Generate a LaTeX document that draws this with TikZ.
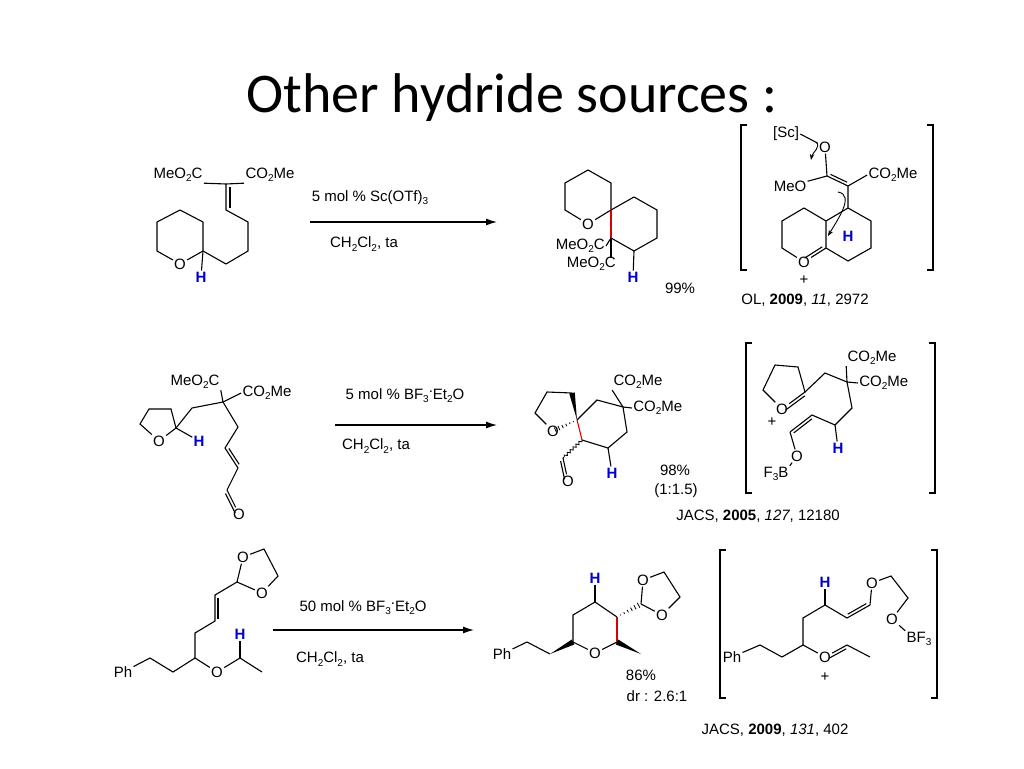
\documentclass[tikz,border=0pt]{standalone}
\usepackage{fontspec}
\setmainfont{Liberation Sans}
\newfontfamily\titlefont{Carlito}
\usetikzlibrary{calc,arrows.meta,decorations.pathmorphing}
\newcommand\sbs[1]{\raisebox{-0.4ex}{\fontsize{10}{10}\selectfont #1}}
\newcommand\dt{\raisebox{0.9ex}{.}}
\newcommand\dbond[3][3]{\draw[shorten >=2.5pt,shorten <=2.5pt] ($(#2)!#1pt!90:(#3)$) -- ($(#3)!#1pt!-90:(#2)$);}
\newcommand\wdg[2]{\fill (#1) -- ($(#2)!2.8pt!90:(#1)$) -- ($(#2)!2.8pt!-90:(#1)$) -- cycle;}
\newcommand\hashb[2]{\foreach \t in {0.15,0.3,...,0.95}{\draw[line width=0.8pt] ($(#1)!\t!(#2)!\t*3pt!90:(#2)$) -- ($(#1)!\t!(#2)!\t*3pt!-90:(#2)$);}}
\begin{document}
\begin{tikzpicture}[x=1pt,y=-1pt,line width=1.1pt,
  atm/.style={inner sep=0.8pt,font=\fontsize{15}{15}\selectfont},
  hh/.style={inner sep=0.8pt,text=blue!80!black,font=\fontsize{15}{15}\selectfont\bfseries},
  txt/.style={inner sep=0pt,font=\fontsize{15}{15}\selectfont},
  rxn/.style={-{Latex[length=11pt,width=7pt]},line width=1.3pt},
  brk/.style={line width=1.3pt},
  redb/.style={draw=red!85!black}]
\useasboundingbox (0,0) rectangle (1024,768);
\node[font=\titlefont\fontsize{56}{56}\selectfont] (title) at (512,98) {Other hydride sources :};

% ===== Row 1 reactant
\coordinate (a1) at (180,210); \coordinate (a2) at (203,222); \coordinate (a3) at (203,251);
\node[atm] (ao) at (180,264) {O}; \coordinate (a5) at (157,251); \coordinate (a6) at (157,222);
\draw (a1)--(a2)--(a3)--(ao)--(a5)--(a6)--(a1);
\node[hh] (ah) at (201,277) {H}; \draw (a3)--(ah);
\coordinate (a7) at (226,264); \coordinate (a8) at (248,251); \coordinate (a9) at (248,222);
\coordinate (a10) at (226,210); \coordinate (a11) at (226,184);
\draw (a3)--(a7)--(a8)--(a9)--(a10)--(a11);
\dbond[-4]{a10}{a11}
\node[atm] (ae1) at (178,175) {MeO\sbs{2}C}; \node[atm] (ae2) at (270,175) {CO\sbs{2}Me};
\draw (a11)--(ae1.south east); \draw (a11)--(ae2.south west);

\coordinate (r1s) at (310,222); \coordinate (r1e) at (497,222);
\draw[rxn] (r1s)--(r1e);
\node[txt] (r1t) at (370,198) {5 mol \% Sc(OTf)\sbs{3}};
\node[txt] (r1b) at (364,244) {CH\sbs{2}Cl\sbs{2}, ta};

% ===== Row 1 product
\coordinate (pS) at (611,210);
\coordinate (pt1) at (588,170); \coordinate (pt2) at (611,183);
\node[atm] (po) at (588,224) {O}; \coordinate (pt5) at (565,210); \coordinate (pt6) at (565,183);
\draw (pS)--(pt2)--(pt1)--(pt6)--(pt5)--(po)--(pS);
\coordinate (pc1) at (634,197); \coordinate (pc2) at (657,210); \coordinate (pc3) at (657,238);
\coordinate (pc4) at (634,251); \coordinate (pQ) at (611,238);
\draw (pS)--(pc1)--(pc2)--(pc3)--(pc4)--(pQ);
\draw[redb] (pS)--(pQ);
\node[atm,anchor=east] (pe1) at (606,246) {MeO\sbs{2}C};
\node[atm,anchor=north east] (pe2) at (617,256) {MeO\sbs{2}C};
\draw (pQ)--(pe1.east); \draw (pQ)--($(pe2.north east)+(-6,2)$);
\node[hh] (ph) at (633,277) {H}; \draw (pc4)--(ph);
\node[txt] (y1) at (680,288) {99\%};

% ===== Row 1 intermediate
\draw[brk] (747,125)--(741,125)--(741,270)--(747,270);
\draw[brk] (927,125)--(933,125)--(933,270)--(927,270);
\node[atm] (isc) at (786,134) {[Sc]}; \node[atm] (io1) at (825,147) {O};
\draw (isc.east)--(io1);
\coordinate (ic1) at (827,176); \coordinate (ic2) at (848,186);
\node[atm] (imeo) at (790,186) {MeO}; \node[atm] (ico) at (893,175) {CO\sbs{2}Me};
\draw (io1)--(ic1); \draw (ic1)--(imeo); \draw (ic1)--(ic2); \dbond[3]{ic1}{ic2}
\draw (ic2)--(ico.west);
\coordinate (ir1) at (848,208); \coordinate (ir2) at (871,221); \coordinate (ir3) at (871,248);
\coordinate (ir4) at (848,261); \coordinate (ir5) at (826,248); \coordinate (ir6) at (826,221);
\draw (ic2)--(ir1)--(ir2)--(ir3)--(ir4)--(ir5)--(ir6)--(ir1);
\node[atm] (io2) at (804,262) {O}; \coordinate (il3) at (782,248); \coordinate (il4) at (782,221);
\coordinate (il5) at (804,208);
\draw (ir5)--(io2)--(il3)--(il4)--(il5)--(ir6);
\dbond[-3]{ir5}{io2}
\node[hh] (ih) at (848,236) {H};
\node[atm] (ip1) at (804,280) {+};
\draw[-{Stealth[length=6pt]},line width=0.9pt] (816,142) to[out=-40,in=80] (811,160);
\draw[-{Stealth[length=6pt]},line width=0.9pt] (838,192) to[out=-10,in=60] (828,236);
\node[txt] (c1) at (805,300) {OL, \textbf{2009}, \textit{11}, 2972};

% ===== Row 2 reactant
\node[atm] (bo) at (159,441) {O}; \coordinate (b2) at (176,428); \coordinate (b3) at (171,409);
\coordinate (b4) at (149,409); \coordinate (b5) at (140,424);
\draw (bo)--(b2)--(b3)--(b4)--(b5)--(bo);
\node[hh] (bh) at (199,441) {H}; \draw (b2)--(bh);
\coordinate (b6) at (192,408); \coordinate (bQ) at (223,402);
\draw (b2)--(b6)--(bQ);
\node[atm] (be1) at (195,382) {MeO\sbs{2}C}; \node[atm] (be2) at (267,393) {CO\sbs{2}Me};
\draw (bQ)--(be1.south east); \draw (bQ)--(be2.west);
\coordinate (b7) at (238,427); \coordinate (b8) at (225,448); \coordinate (b9) at (238,468);
\coordinate (b10) at (227,490); \node[atm] (bo2) at (239,514) {O};
\draw (bQ)--(b7)--(b8)--(b9)--(b10); \dbond[3]{b8}{b9}
\draw (b10)--(bo2); \dbond[-3]{b10}{bo2}

\coordinate (r2s) at (335,425); \coordinate (r2e) at (497,425);
\draw[rxn] (r2s)--(r2e);
\node[txt] (r2t) at (405,396) {5 mol \% BF\sbs{3}\dt Et\sbs{2}O};
\node[txt] (r2b) at (376,446) {CH\sbs{2}Cl\sbs{2}, ta};

% ===== Row 2 product
\node[atm] (qo) at (553,431) {O}; \coordinate (qS) at (577,420); \coordinate (q3) at (572,393);
\coordinate (q4) at (547,392); \coordinate (q5) at (535,413);
\draw (q3)--(q4)--(q5)--(qo);
\wdg{qS}{q3}
\hashb{qS}{qo}
\coordinate (qc1) at (597,400); \coordinate (qQ) at (623,407); \coordinate (qc3) at (627,432);
\coordinate (qc4) at (608,448); \coordinate (qc5) at (582,440);
\draw (qS)--(qc1)--(qQ)--(qc3)--(qc4)--(qc5);
\draw[redb] (qS)--(qc5);
\node[atm] (qe1) at (638,382) {CO\sbs{2}Me}; \node[atm,anchor=west] (qe2) at (632,408) {CO\sbs{2}Me};
\draw (qQ)--(qe1.south west); \draw (qQ)--(qe2.west);
\node[hh] (qh) at (612,473) {H}; \draw (qc4)--(qh);
\coordinate (qald) at (563,458); \node[atm] (qo2) at (568,481) {O};
\draw[decorate,decoration={snake,amplitude=1.3pt,segment length=4pt},line width=0.8pt] (qc5)--(qald);
\draw (qald)--(qo2); \dbond[-3]{qald}{qo2}
\node[txt] (y2) at (675,470) {98\%};
\node[txt] (y2b) at (676,491) {(1:1.5)};

% ===== Row 2 intermediate
\draw[brk] (752,343)--(746,343)--(746,493)--(752,493);
\draw[brk] (929,343)--(935,343)--(935,493)--(929,493);
\node[atm] (jo) at (782,409) {O}; \coordinate (j2) at (805,392); \coordinate (j3) at (798,367);
\coordinate (j4) at (775,365); \coordinate (j5) at (763,390);
\draw (jo)--(j2)--(j3)--(j4)--(j5)--(jo); \dbond[3]{j2}{jo}
\node[atm] (jp) at (772,422) {+};
\coordinate (j6) at (825,373); \coordinate (jQ) at (847,382);
\draw (j2)--(j6)--(jQ);
\node[atm] (je1) at (872,358) {CO\sbs{2}Me}; \node[atm,anchor=west] (je2) at (858,383) {CO\sbs{2}Me};
\draw (jQ)--(je1.south west); \draw (jQ)--(je2.west);
\coordinate (j7) at (852,408); \coordinate (j8) at (835,425); \coordinate (j9) at (812,415);
\coordinate (j10) at (790,432);
\draw (jQ)--(j7)--(j8)--(j9)--(j10); \dbond[3]{j9}{j10}
\node[hh] (jh) at (838,448) {H}; \draw (j8)--(jh);
\node[atm] (jo2) at (797,456) {O}; \node[atm] (jb) at (776,474) {F\sbs{3}B};
\draw (j10)--(jo2)--(jb.north east);
\node[txt] (c2) at (758,516) {JACS, \textbf{2005}, \textit{127}, 12180};

% ===== Row 3 reactant
\node[atm] (kph) at (123,672) {Ph}; \coordinate (k1) at (150,658); \coordinate (k2) at (173,672);
\coordinate (k3) at (195,658); \node[atm] (ko) at (217,672) {O}; \coordinate (k4) at (240,658);
\coordinate (k5) at (262,672); \node[hh] (kh) at (240,634) {H};
\draw (kph)--(k1)--(k2)--(k3)--(ko)--(k4)--(k5); \draw (k4)--(kh);
\coordinate (k6) at (195,633); \coordinate (k7) at (215,621); \coordinate (k8) at (215,595);
\coordinate (k9) at (237,582);
\draw (k3)--(k6)--(k7)--(k8)--(k9); \dbond[-3]{k7}{k8}
\node[atm] (ko1) at (243,557) {O}; \node[atm] (ko2) at (262,593) {O};
\coordinate (k10) at (264,549); \coordinate (k11) at (278,576);
\draw (k9)--(ko1)--(k10)--(k11)--(ko2)--(k9);

\coordinate (r3s) at (273,630); \coordinate (r3e) at (474,630);
\draw[rxn] (r3s)--(r3e);
\node[txt] (r3t) at (363,608) {50 mol \% BF\sbs{3}\dt Et\sbs{2}O};
\node[txt] (r3b) at (330,659) {CH\sbs{2}Cl\sbs{2}, ta};

% ===== Row 3 product
\node[atm] (mph) at (502,654) {Ph}; \coordinate (m1) at (527,642); \coordinate (m2) at (550,654);
\coordinate (m6) at (573,642); \node[atm] (mo) at (595,653) {O}; \coordinate (m2c) at (617,642);
\coordinate (m3) at (617,617); \coordinate (m4) at (595,602); \coordinate (m5) at (573,615);
\draw (mph)--(m1)--(m2); \wdg{m2}{m6}
\draw (m6)--(mo)--(m2c); \draw (m3)--(m4)--(m5)--(m6);
\draw[redb] (m2c)--(m3);
\coordinate (mme) at (641,654); \wdg{mme}{m2c}
\node[hh] (mh) at (595,578) {H}; \draw (m4)--(mh);
\coordinate (ma) at (641,604); \hashb{m3}{ma}
\node[atm] (mo1) at (643,580) {O}; \node[atm] (mo2) at (662,615) {O};
\coordinate (m10) at (664,572); \coordinate (m11) at (680,597);
\draw (ma)--(mo1)--(m10)--(m11)--(mo2)--(ma);
\node[txt] (y3) at (641,675) {86\%};
\node[txt] (y3b) at (657,696) {dr : 2.6:1};

% ===== Row 3 intermediate
\draw[brk] (726,550)--(720,550)--(720,698)--(726,698);
\draw[brk] (931,550)--(937,550)--(937,698)--(931,698);
\node[atm] (nph) at (732,657) {Ph}; \coordinate (n1) at (760,645); \coordinate (n2) at (782,657);
\coordinate (n3) at (803,645); \node[atm] (no) at (825,657) {O}; \coordinate (n4) at (847,645);
\coordinate (n5) at (870,657);
\draw (nph)--(n1)--(n2)--(n3)--(no)--(n4)--(n5); \dbond[-3]{no}{n4}
\node[atm] (np) at (825,677) {+};
\coordinate (n6) at (803,618); \coordinate (n7) at (825,605); \node[hh] (nh) at (825,582) {H};
\coordinate (n8) at (847,618); \coordinate (n9) at (870,605);
\draw (n3)--(n6)--(n7)--(n8)--(n9); \draw (n7)--(nh); \dbond[3]{n8}{n9}
\node[atm] (no1) at (872,583) {O}; \coordinate (n10) at (891,576); \coordinate (n11) at (908,598);
\node[atm] (no2) at (892,619) {O}; \node[atm] (nb) at (919,639) {BF\sbs{3}};
\draw (n9)--(no1)--(n10)--(n11)--(no2)--(nb.north west);
\node[txt] (c3) at (775,730) {JACS, \textbf{2009}, \textit{131}, 402};
\end{tikzpicture}
\end{document}
